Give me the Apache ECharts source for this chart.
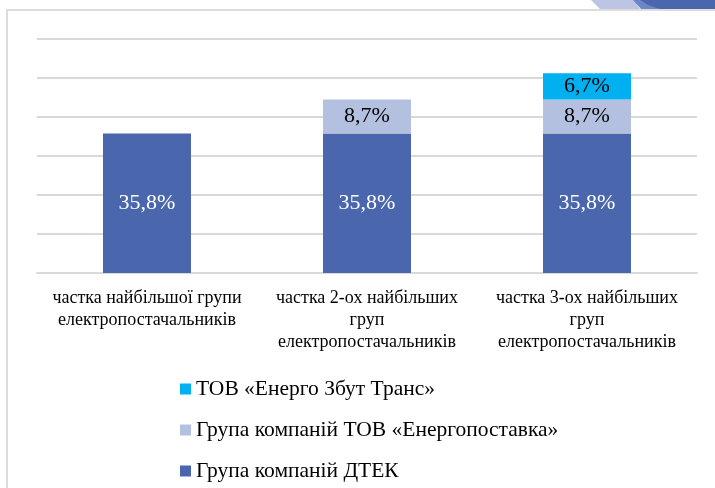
<!DOCTYPE html>
<html lang="uk">
<head>
    <meta charset="utf-8">
    <title>Частка найбільших груп електропостачальників</title>
    <script src="https://cdn.jsdelivr.net/npm/echarts@6/dist/echarts.min.js"></script>
    <style>
        html, body { margin: 0; padding: 0; background: #ffffff; }
        #chart { width: 715px; height: 488px; }
    </style>
</head>
<body>
<div id="chart"></div>
<script>
    // категорії осі X
    var categories = [
        'частка найбільшої групи\nелектропостачальників',
        'частка 2-ох найбільших\nгруп\nелектропостачальників',
        'частка 3-ох найбільших\nгруп\nелектропостачальників'
    ];
    // назви рядів
    var nameDtek = 'Група компаній ДТЕК';
    var nameEnergo = 'Група компаній ТОВ «Енергопоставка»';
    var nameZbut = 'ТОВ «Енерго Збут Транс»';
    // значення, %
    var dtekValues = [35.8, 35.8, 35.8];
    var energoValues = ['-', 8.7, 8.7];
    var zbutValues = ['-', '-', 6.7];

    var chart = echarts.init(document.getElementById('chart'));
    var serif = '"Liberation Serif", "DejaVu Serif", serif';

    function pct(p) {
        return String(p.value).replace('.', ',') + '%';
    }

    var option = {
        animation: false,
        backgroundColor: '#ffffff',
        textStyle: { fontFamily: serif },
        grid: { left: 37, right: 18, top: 39, bottom: 215 },
        legend: {
            orient: 'vertical',
            left: 175,
            top: 373,
            height: 140,
            itemWidth: 11,
            itemHeight: 11,
            itemGap: 19,
            icon: 'rect',
            data: [nameZbut, nameEnergo, nameDtek],
            textStyle: { fontFamily: serif, fontSize: 21.5, lineHeight: 20, color: '#000000' }
        },
        xAxis: {
            type: 'category',
            data: categories,
            axisLine: { lineStyle: { color: '#d9d9d9', width: 2 } },
            axisTick: { show: false },
            axisLabel: {
                margin: 14,
                fontFamily: serif,
                fontSize: 18,
                lineHeight: 22,
                color: '#000000',
                interval: 0
            }
        },
        yAxis: {
            type: 'value',
            min: 0,
            max: 60,
            interval: 10,
            axisLabel: { show: false },
            axisLine: { show: false },
            axisTick: { show: false },
            splitLine: { lineStyle: { color: '#d9d9d9', width: 2 } }
        },
        series: [
            {
                name: nameDtek,
                type: 'bar',
                stack: 'all',
                barWidth: '40%',
                data: dtekValues,
                itemStyle: { color: '#4a66ac' },
                label: {
                    show: true,
                    position: 'inside',
                    formatter: pct,
                    fontFamily: serif,
                    fontSize: 22,
                    color: '#ffffff'
                }
            },
            {
                name: nameEnergo,
                type: 'bar',
                stack: 'all',
                data: energoValues,
                itemStyle: { color: '#b4c0e0' },
                label: {
                    show: true,
                    position: 'inside',
                    formatter: pct,
                    fontFamily: serif,
                    fontSize: 22,
                    color: '#000000'
                }
            },
            {
                name: nameZbut,
                type: 'bar',
                stack: 'all',
                data: zbutValues,
                itemStyle: { color: '#00b0f0' },
                label: {
                    show: true,
                    position: 'inside',
                    formatter: pct,
                    fontFamily: serif,
                    fontSize: 22,
                    color: '#000000'
                }
            }
        ],
        graphic: [
            // рамка слайду
            {
                type: 'rect',
                silent: true,
                shape: { x: 7, y: 10, width: 720, height: 500 },
                style: { fill: 'none', stroke: '#dcdcdc', lineWidth: 2 }
            },
            // декоративні смуги у правому верхньому куті
            {
                type: 'polygon',
                silent: true,
                shape: { points: [[591, 0], [634, 0], [640, 9], [600, 9]] },
                style: { fill: '#bcc6e4' }
            },
            {
                type: 'polygon',
                silent: true,
                shape: { points: [[633, 0], [715, 0], [715, 9], [641, 9]] },
                style: { fill: '#6f86c6' }
            },
            {
                type: 'polygon',
                silent: true,
                shape: { points: [[640, 0], [715, 0], [715, 9], [660, 9], [648, 5]] },
                style: { fill: '#4a66ac' }
            }
        ]
    };

    chart.setOption(option);
</script>
</body>
</html>
